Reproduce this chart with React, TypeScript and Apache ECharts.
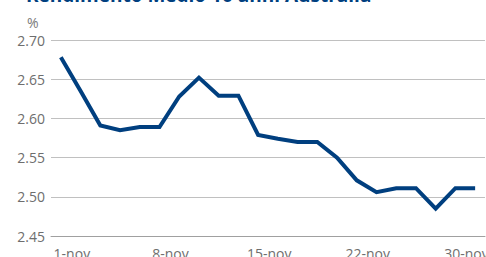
import React, { useEffect, useRef } from "react";
import * as echarts from "echarts";

const categories = [
  "1-nov", "2-nov", "5-nov", "6-nov", "7-nov", "8-nov", "9-nov", "12-nov", "13-nov", "14-nov", "15-nov",
  "16-nov", "19-nov", "20-nov", "21-nov", "22-nov", "26-nov", "27-nov", "28-nov", "29-nov", "30-nov", "3-dic",
];
const yields = [
  2.678, 2.635, 2.591, 2.585, 2.589, 2.589, 2.628, 2.652, 2.629, 2.629, 2.579,
  2.574, 2.570, 2.570, 2.550, 2.521, 2.506, 2.511, 2.511, 2.485, 2.511, 2.511,
];
const titleText = "Rendimento Medio 10 anni Australia";
const unitText = "%";

export default function App() {
  const ref = useRef<HTMLDivElement>(null);
  useEffect(() => {
    if (!ref.current) return;
    const chart = echarts.init(ref.current, undefined, { renderer: "svg" });
    const font = "'Open Sans', 'Noto Sans', sans-serif";
    chart.setOption({
      animation: false,
      backgroundColor: "#ffffff",
      textStyle: { fontFamily: font },
      graphic: [
        {
          type: "text",
          left: 26,
          top: -15,
          style: { text: titleText, font: `bold 19px ${font}`, fill: "#003f7f" },
        },
        {
          type: "text",
          x: 27,
          y: 22,
          style: { text: unitText, fontSize: 14, fontFamily: font, fill: "#7a7a7a", textVerticalAlign: "middle" },
        },
      ],
      grid: { left: 51, right: 1, top: 40, bottom: 21, containLabel: false, outerBoundsMode: "none" },
      xAxis: {
        type: "category",
        data: categories,
        boundaryGap: true,
        axisTick: { show: false },
        axisLine: { show: true, lineStyle: { color: "#a0a0a0", width: 1 } },
        axisLabel: {
          interval: 4,
          fontSize: 14,
          color: "#6e6e6e",
          margin: 10,
          padding: [0, 0, 0, 22],
          fontFamily: font,
          hideOverlap: false,
        },
        splitLine: { show: false },
      },
      yAxis: {
        type: "value",
        min: 2.45,
        max: 2.7,
        interval: 0.05,
        axisLine: { show: false },
        axisTick: { show: false },
        axisLabel: {
          fontSize: 14,
          color: "#6e6e6e",
          margin: 6,
          fontFamily: font,
          formatter: (v: number) => v.toFixed(2),
        },
        splitLine: { show: true, lineStyle: { color: "#c0c0c0", width: 1 } },
      },
      series: [
        {
          type: "line",
          data: yields,
          showSymbol: false,
          symbol: "none",
          lineStyle: { color: "#003f7f", width: 4, join: "miter" },
          itemStyle: { color: "#003f7f" },
        },
      ],
    });
    return () => chart.dispose();
  }, []);
  return (
    <div
      ref={ref}
      style={{ position: "fixed", left: 0, top: 0, width: 486, height: 257, background: "#fff" }}
    />
  );
}
